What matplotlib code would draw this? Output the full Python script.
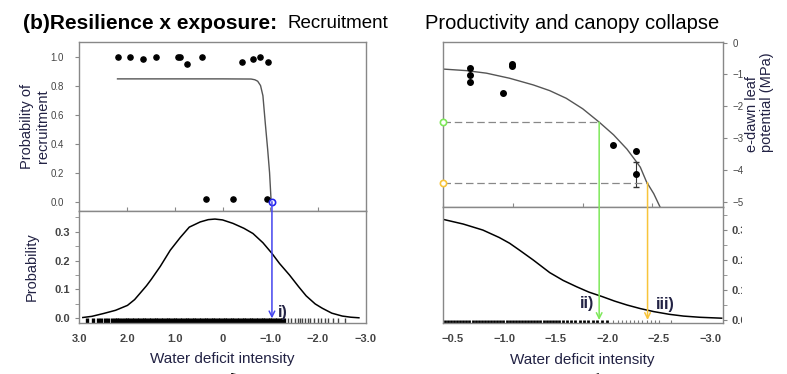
import matplotlib
matplotlib.use("Agg")
import matplotlib.pyplot as plt
from matplotlib.patches import ConnectionPatch, FancyArrowPatch
from matplotlib.transforms import Bbox, TransformedBbox

plt.rcParams['font.family'] = ['Liberation Sans', 'DejaVu Sans']

# recruitment observations (left, top)
rec_x = [2.21, 1.95, 1.67, 1.41, 0.93, 0.89, 0.74, 0.43, -0.41, -0.64, -0.78, -0.95, 0.35, -0.22, -0.94]
rec_y = [1.0, 1.0, 0.98, 1.0, 1.0, 1.0, 0.95, 1.0, 0.96, 0.98, 1.0, 0.96, 0.02, 0.02, 0.02]
rec_fit_x = [2.21, 0.0, -0.6, -0.68, -0.74, -0.80, -0.85, -0.90, -0.95, -0.99, -1.02]
rec_fit_y = [0.846, 0.846, 0.845, 0.84, 0.83, 0.80, 0.73, 0.54, 0.36, 0.20, 0.02]

# water deficit density (left, bottom)
dens_x = [2.94, 2.75, 2.5, 2.25, 2.0, 1.85, 1.73, 1.6, 1.5, 1.31, 1.1, 0.89, 0.7, 0.47, 0.3, 0.16,
          0.0, -0.22, -0.45, -0.64, -0.85, -1.04, -1.2, -1.41, -1.6, -1.76, -1.95, -2.1, -2.3,
          -2.52, -2.7, -2.87]
dens_y = [0.003, 0.007, 0.017, 0.028, 0.045, 0.065, 0.088, 0.113, 0.135, 0.18, 0.236, 0.28, 0.316,
          0.334, 0.342, 0.344, 0.341, 0.329, 0.312, 0.294, 0.262, 0.225, 0.19, 0.15, 0.11, 0.078,
          0.05, 0.035, 0.018, 0.008, 0.004, 0.002]
left_rug = [2.85, 2.72, 2.62, 2.55, 2.47, 2.40, 2.33, 2.27, 2.22, 2.17, 2.12, 2.06, 2.02, 1.96,
            1.90, 1.86, 1.80, 1.75, 1.70, 1.65, 1.60, 1.55, 1.50, 1.45, 1.40, 1.35, 1.30, 1.25,
            1.20, 1.15, 1.10, 1.05, 1.00, 0.95, 0.90, 0.85, 0.80, 0.75, 0.70, 0.65, 0.60, 0.55,
            0.50, 0.45, 0.40, 0.35, 0.30, 0.25, 0.20, 0.15, 0.10, 0.05, 0.00, -0.05, -0.10, -0.15,
            -0.20, -0.25, -0.30, -0.35, -0.40, -0.45, -0.50, -0.55, -0.60, -0.65, -0.70, -0.75,
            -0.80, -0.85, -0.90, -0.95, -1.00, -1.05, -1.10, -1.15, -1.20, -1.25, -1.30]
left_rug_sparse = [-1.38, -1.45, -1.52, -1.58, -1.63, -1.68, -1.74, -1.80, -1.85, -1.92, -2.00,
                   -2.08, -2.15, -2.22, -2.32, -2.42, -2.58]
threshold_i = -1.04

# pre-dawn leaf potential (right, top)
lwp_x = [-0.67, -0.67, -0.67, -0.99, -1.07, -1.07, -2.05, -2.28, -2.28]
lwp_y = [-0.79, -1.02, -1.23, -1.59, -0.67, -0.75, -3.22, -3.40, -4.13]
lwp_err_x = -2.28
lwp_err_lo, lwp_err_hi = -4.53, -3.76
lwp_fit_x = [-0.40, -0.63, -0.825, -1.05, -1.28, -1.44, -1.60, -1.76, -1.92, -2.06, -2.19, -2.22,
             -2.28, -2.32, -2.38, -2.45, -2.51]
lwp_fit_y = [-0.83, -0.88, -0.96, -1.12, -1.33, -1.51, -1.75, -2.08, -2.50, -2.90, -3.35, -3.48,
             -3.74, -3.92, -4.38, -4.75, -5.16]
lwp_ticks = [-0.40, -1.08, -1.76, -2.43]
threshold_ii = (-1.92, -2.50)
threshold_iii = (-2.39, -4.40)

# water deficit density, upper tail (right, bottom)
tail_x = [-0.40, -0.6, -0.79, -0.95, -1.05, -1.15, -1.28, -1.44, -1.57, -1.70, -1.82, -1.95, -2.07,
          -2.19, -2.32, -2.45, -2.6, -2.74, -2.9, -3.11]
tail_y = [0.336, 0.32, 0.30, 0.275, 0.256, 0.232, 0.20, 0.158, 0.132, 0.111, 0.093, 0.078, 0.063,
          0.05, 0.038, 0.028, 0.019, 0.013, 0.009, 0.006]
right_rug = [-0.42, -0.45, -0.48, -0.51, -0.54, -0.57, -0.60, -0.63, -0.66, -0.69, -0.72, -0.75,
             -0.78, -0.81, -0.84, -0.87, -0.90, -0.93, -0.96, -0.99, -1.02, -1.05, -1.08, -1.11,
             -1.14, -1.17, -1.20, -1.23, -1.26, -1.29, -1.32, -1.35, -1.38, -1.41, -1.44, -1.47,
             -1.50, -1.53, -1.57, -1.61, -1.65, -1.69, -1.73, -1.77, -1.81, -1.86, -1.90, -1.95,
             -2.00]
right_rug_sparse = [-2.05, -2.10, -2.14, -2.18, -2.22, -2.26, -2.30, -2.34, -2.38, -2.42, -2.46, -2.50, -2.62]

spine_col = '#888888'
tick_col = '#444444'
label_col = '#222244'

fig = plt.figure(figsize=(7.87, 3.74), dpi=100)
ax1 = fig.add_axes([0.1004, 0.4358, 0.3647, 0.4519])
ax2 = fig.add_axes([0.1004, 0.1364, 0.3647, 0.2995])
ax3 = fig.add_axes([0.5625, 0.4457, 0.3558, 0.4428])
ax4 = fig.add_axes([0.5625, 0.1356, 0.3558, 0.3102])

for ax in (ax1, ax2, ax3, ax4):
    for s in ax.spines.values():
        s.set_color(spine_col)
        s.set_linewidth(1.0)
    ax.tick_params(colors=spine_col, labelcolor=tick_col, length=3, width=0.8)

# left top
ax1.plot(rec_fit_x, rec_fit_y, color='#555555', lw=1.0)
ax1.scatter(rec_x, rec_y, s=14, color='black', zorder=3)
ax1.plot([threshold_i], [0.0], 'o', mfc='white', mec='#2222ee', ms=4.5, mew=1.2, zorder=4, clip_on=False)
ax1.set_xlim(3.02, -3.02)
ax1.set_ylim(-0.064, 1.10)
ax1.set_yticks([0.0, 0.2, 0.4, 0.6, 0.8, 1.0])
ax1.set_yticklabels(['0.0', '0.2', '0.4', '0.6', '0.8', '1.0'], fontsize=7)
ax1.tick_params(axis='y', pad=8)
ax1.set_xticks([2, 1, 0, -1, -2])
ax1.tick_params(axis='x', direction='in', labelbottom=False, length=3)
ax1.set_ylabel('Probability of\nrecruitment', fontsize=10.5, color=label_col, labelpad=0)

# left bottom
ax2.plot(dens_x, dens_y, color='black', lw=1.1)
ax2.vlines(left_rug, -0.016, 0.0, color='black', lw=2.4)
ax2.vlines(left_rug_sparse, -0.016, 0.0, color='#444444', lw=1.0)
ax2.set_xlim(3.02, -3.02)
ax2.set_ylim(-0.016, 0.372)
ax2.set_yticks([0.0, 0.1, 0.2, 0.3])
ax2.set_yticks([0.05, 0.15, 0.25, 0.35], minor=True)
ax2.set_yticklabels(['0.0', '0.1', '0.2', '0.3'], fontsize=8, fontweight='bold')
ax2.tick_params(axis='y', which='minor', length=3, colors=spine_col)
ax2.set_xticks([3, 2, 1, 0, -1, -2, -3])
ax2.set_xticklabels(['3.0', '2.0', '1.0', '0', '\u22121.0', '\u22122.0', '\u22123.0'], fontsize=8, fontweight='bold')
ax2.tick_params(axis='x', length=0, pad=8)
ax2.set_ylabel('Probability', fontsize=10.5, color=label_col, labelpad=11)
ax2.set_xlabel('Water deficit intensity', fontsize=11, color=label_col, labelpad=6)
ax2.text(-1.17, 0.004, 'i)', fontsize=11.5, color=label_col, fontweight='bold')

# right top
ax3.plot(lwp_fit_x, lwp_fit_y, color='#555555', lw=1.0)
ax3.errorbar([lwp_err_x], [(lwp_err_lo + lwp_err_hi) / 2], yerr=[(lwp_err_hi - lwp_err_lo) / 2],
             fmt='none', ecolor='#333333', elinewidth=0.8, capsize=2)
ax3.scatter(lwp_x, lwp_y, s=16, color='black', zorder=3)
for (tx, ty), col in ((threshold_ii, '#7ee85a'), (threshold_iii, '#f8c43a')):
    ax3.plot([-0.40, tx], [ty, ty], ls=(0, (6, 3)), color='#888888', lw=0.9)
    ax3.plot([-0.40], [ty], 'o', mfc='white', mec=col, ms=4.5, mew=1.2, clip_on=False, zorder=4)
ax3.set_xlim(-0.40, -3.12)
ax3.set_ylim(-5.18, 0.03)
ax3.set_xticks(lwp_ticks)
ax3.tick_params(axis='x', direction='in', labelbottom=False, length=3)
ax3.yaxis.tick_right()
ax3.set_yticks([0, -1, -2, -3, -4, -5])
ax3.set_yticklabels(['0', '\u22121', '\u22122', '\u22123', '\u22124', '\u22125'], fontsize=7)
ax3.tick_params(axis='y', pad=4)
fig.text(0.947, 0.594, 'e-dawn leaf\npotential (MPa)', rotation=90, fontsize=10.5,
         color=label_col, ha='left', va='bottom', linespacing=1.1)

# right bottom
ax4.plot(tail_x, tail_y, color='black', lw=1.1)
ax4.vlines(right_rug, -0.011, 0.0, color='black', lw=2.0)
ax4.vlines(right_rug_sparse, -0.011, 0.0, color='#777777', lw=0.8)
ax4.set_xlim(-0.40, -3.12)
ax4.set_ylim(-0.011, 0.376)
ax4.yaxis.tick_right()
ax4.set_yticks([0.0, 0.1, 0.2, 0.3])
ax4.set_yticks([0.05, 0.15, 0.25, 0.35], minor=True)
ax4.set_yticklabels(['0.0', '0.1', '0.2', '0.3'], fontsize=8, fontweight='bold')
ax4.tick_params(axis='y', which='minor', length=3, colors=spine_col)
ax4.set_xticks([-0.5, -1.0, -1.5, -2.0, -2.5, -3.0])
ax4.set_xticklabels(['\u22120.5', '\u22121.0', '\u22121.5', '\u22122.0', '\u22122.5', '\u22123.0'],
                    fontsize=8, fontweight='bold')
ax4.tick_params(axis='x', length=0, pad=8)
ax4.set_xlabel('Water deficit intensity', fontsize=11, color=label_col, labelpad=6)
ax4.text(-1.80, 0.04, 'ii)', fontsize=11.5, color=label_col, fontweight='bold', ha='center')
ax4.text(-2.56, 0.035, 'iii)', fontsize=11.5, color=label_col, fontweight='bold', ha='center')
clip = TransformedBbox(Bbox([[0, 0], [742 / 787, 1]]), fig.transFigure)
for lbl in ax4.get_yticklabels():
    lbl.set_clip_box(clip)
    lbl.set_clip_on(True)

# threshold arrows across panels
for x0, y0, top_ax, bot_ax, col in ((threshold_i, 0.0, ax1, ax2, '#4444ee'),
                                    (threshold_ii[0], threshold_ii[1], ax3, ax4, '#7ee85a'),
                                    (threshold_iii[0], threshold_iii[1], ax3, ax4, '#f8c43a')):
    con = ConnectionPatch(xyA=(x0, y0), coordsA=top_ax.transData,
                          xyB=(x0, 0.0), coordsB=bot_ax.transData,
                          arrowstyle='->', color=col, lw=1.1, mutation_scale=10)
    fig.add_artist(con)

# titles
fig.text(0.029, 0.938, '(b)Resilience x exposure:', fontsize=15, fontweight='bold', va='center')
fig.text(0.365, 0.938, 'Recruitment', fontsize=13.5, va='center')
fig.text(0.540, 0.938, 'Productivity and canopy collapse', fontsize=14.5, va='center')

# small direction arrows at the bottom edge
fig.add_artist(FancyArrowPatch((246 / 787, -0.03), (228 / 787, 0.008), transform=fig.transFigure,
                               arrowstyle='-|>', mutation_scale=8, color='black', lw=1.5))
fig.add_artist(FancyArrowPatch((586 / 787, -0.03), (602 / 787, 0.008), transform=fig.transFigure,
                               arrowstyle='-|>', mutation_scale=8, color='black', lw=1.5))

fig.savefig('out.png', dpi=100)
